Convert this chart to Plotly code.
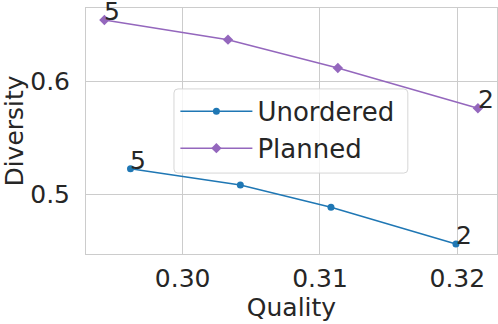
import plotly.graph_objects as go

# data
unordered_quality = [0.2962, 0.3042, 0.3108, 0.3199]
unordered_diversity = [0.5228, 0.5083, 0.4886, 0.4560]
planned_quality = [0.2943, 0.3033, 0.3113, 0.3215]
planned_diversity = [0.6547, 0.6373, 0.6122, 0.5764]
end_labels = ["5", "2"]

BLUE = "#1f77b4"
PURPLE = "#9467bd"
FONT = "DejaVu Sans, sans-serif"
FS = 25

fig = go.Figure()
fig.add_trace(go.Scatter(
    x=unordered_quality, y=unordered_diversity, mode="lines+markers",
    name="Unordered", line=dict(color=BLUE, width=1.5),
    marker=dict(symbol="circle", size=7, color=BLUE),
))
fig.add_trace(go.Scatter(
    x=planned_quality, y=planned_diversity, mode="lines+markers",
    name="Planned", line=dict(color=PURPLE, width=1.5),
    marker=dict(symbol="diamond", size=8, color=PURPLE),
))

# "5" / "2" labels at the first and last point of each series
for xs, ys in [(unordered_quality, unordered_diversity), (planned_quality, planned_diversity)]:
    for idx, lab in zip([0, -1], end_labels):
        fig.add_annotation(
            x=xs[idx], y=ys[idx], text=lab, showarrow=False,
            xanchor="left", yanchor="bottom", xshift=-2, yshift=-8,
            font=dict(family=FONT, size=FS, color="#262626"),
        )

# legend frame drawn as a rounded box (plotly's own legend box can't be padded)
x0, x1, y0, y1 = 0.214, 0.783, 0.329, 0.671
rx, ry = 4 / 411, 4 / 246
frame = (f"M{x0+rx},{y0} L{x1-rx},{y0} Q{x1},{y0} {x1},{y0+ry} "
         f"L{x1},{y1-ry} Q{x1},{y1} {x1-rx},{y1} L{x0+rx},{y1} "
         f"Q{x0},{y1} {x0},{y1-ry} L{x0},{y0+ry} Q{x0},{y0} {x0+rx},{y0} Z")
fig.add_shape(type="path", path=frame, xref="paper", yref="paper",
              fillcolor="rgba(255,255,255,0.8)", line=dict(color="#d6d6d6", width=1),
              layer="above")

axis_common = dict(
    showgrid=True, gridcolor="#cccccc", gridwidth=1,
    showline=True, linecolor="#cccccc", linewidth=1, mirror=True,
    zeroline=False, ticks="outside", tickcolor="white",
    automargin=False,
    tickfont=dict(family=FONT, size=FS, color="#262626"),
    title_font=dict(family=FONT, size=FS, color="#262626"),
)

fig.update_layout(
    width=498, height=324,
    margin=dict(l=86, r=1, t=8, b=70),
    plot_bgcolor="white", paper_bgcolor="white",
    font=dict(family=FONT, size=FS, color="#262626"),
    legend=dict(
        x=0.2175, y=0.675, xanchor="left", yanchor="top",
        bgcolor="rgba(0,0,0,0)", borderwidth=0,
        font=dict(family=FONT, size=26, color="#262626"),
        itemwidth=72,
    ),
    xaxis=dict(axis_common, ticklen=2, title=dict(text="Quality", standoff=2),
               range=[0.29296, 0.32289], tickvals=[0.30, 0.31, 0.32], tickformat=".2f"),
    yaxis=dict(axis_common, ticklen=10, title=dict(text="Diversity", standoff=14),
               range=[0.4471, 0.6654], tickvals=[0.5, 0.6], tickformat=".1f"),
)

# drop the browser's default body margin so the figure sits at the window corner
fig.write_html("out.html", config={"displayModeBar": False},
               post_script="document.body.style.margin = '0';")
